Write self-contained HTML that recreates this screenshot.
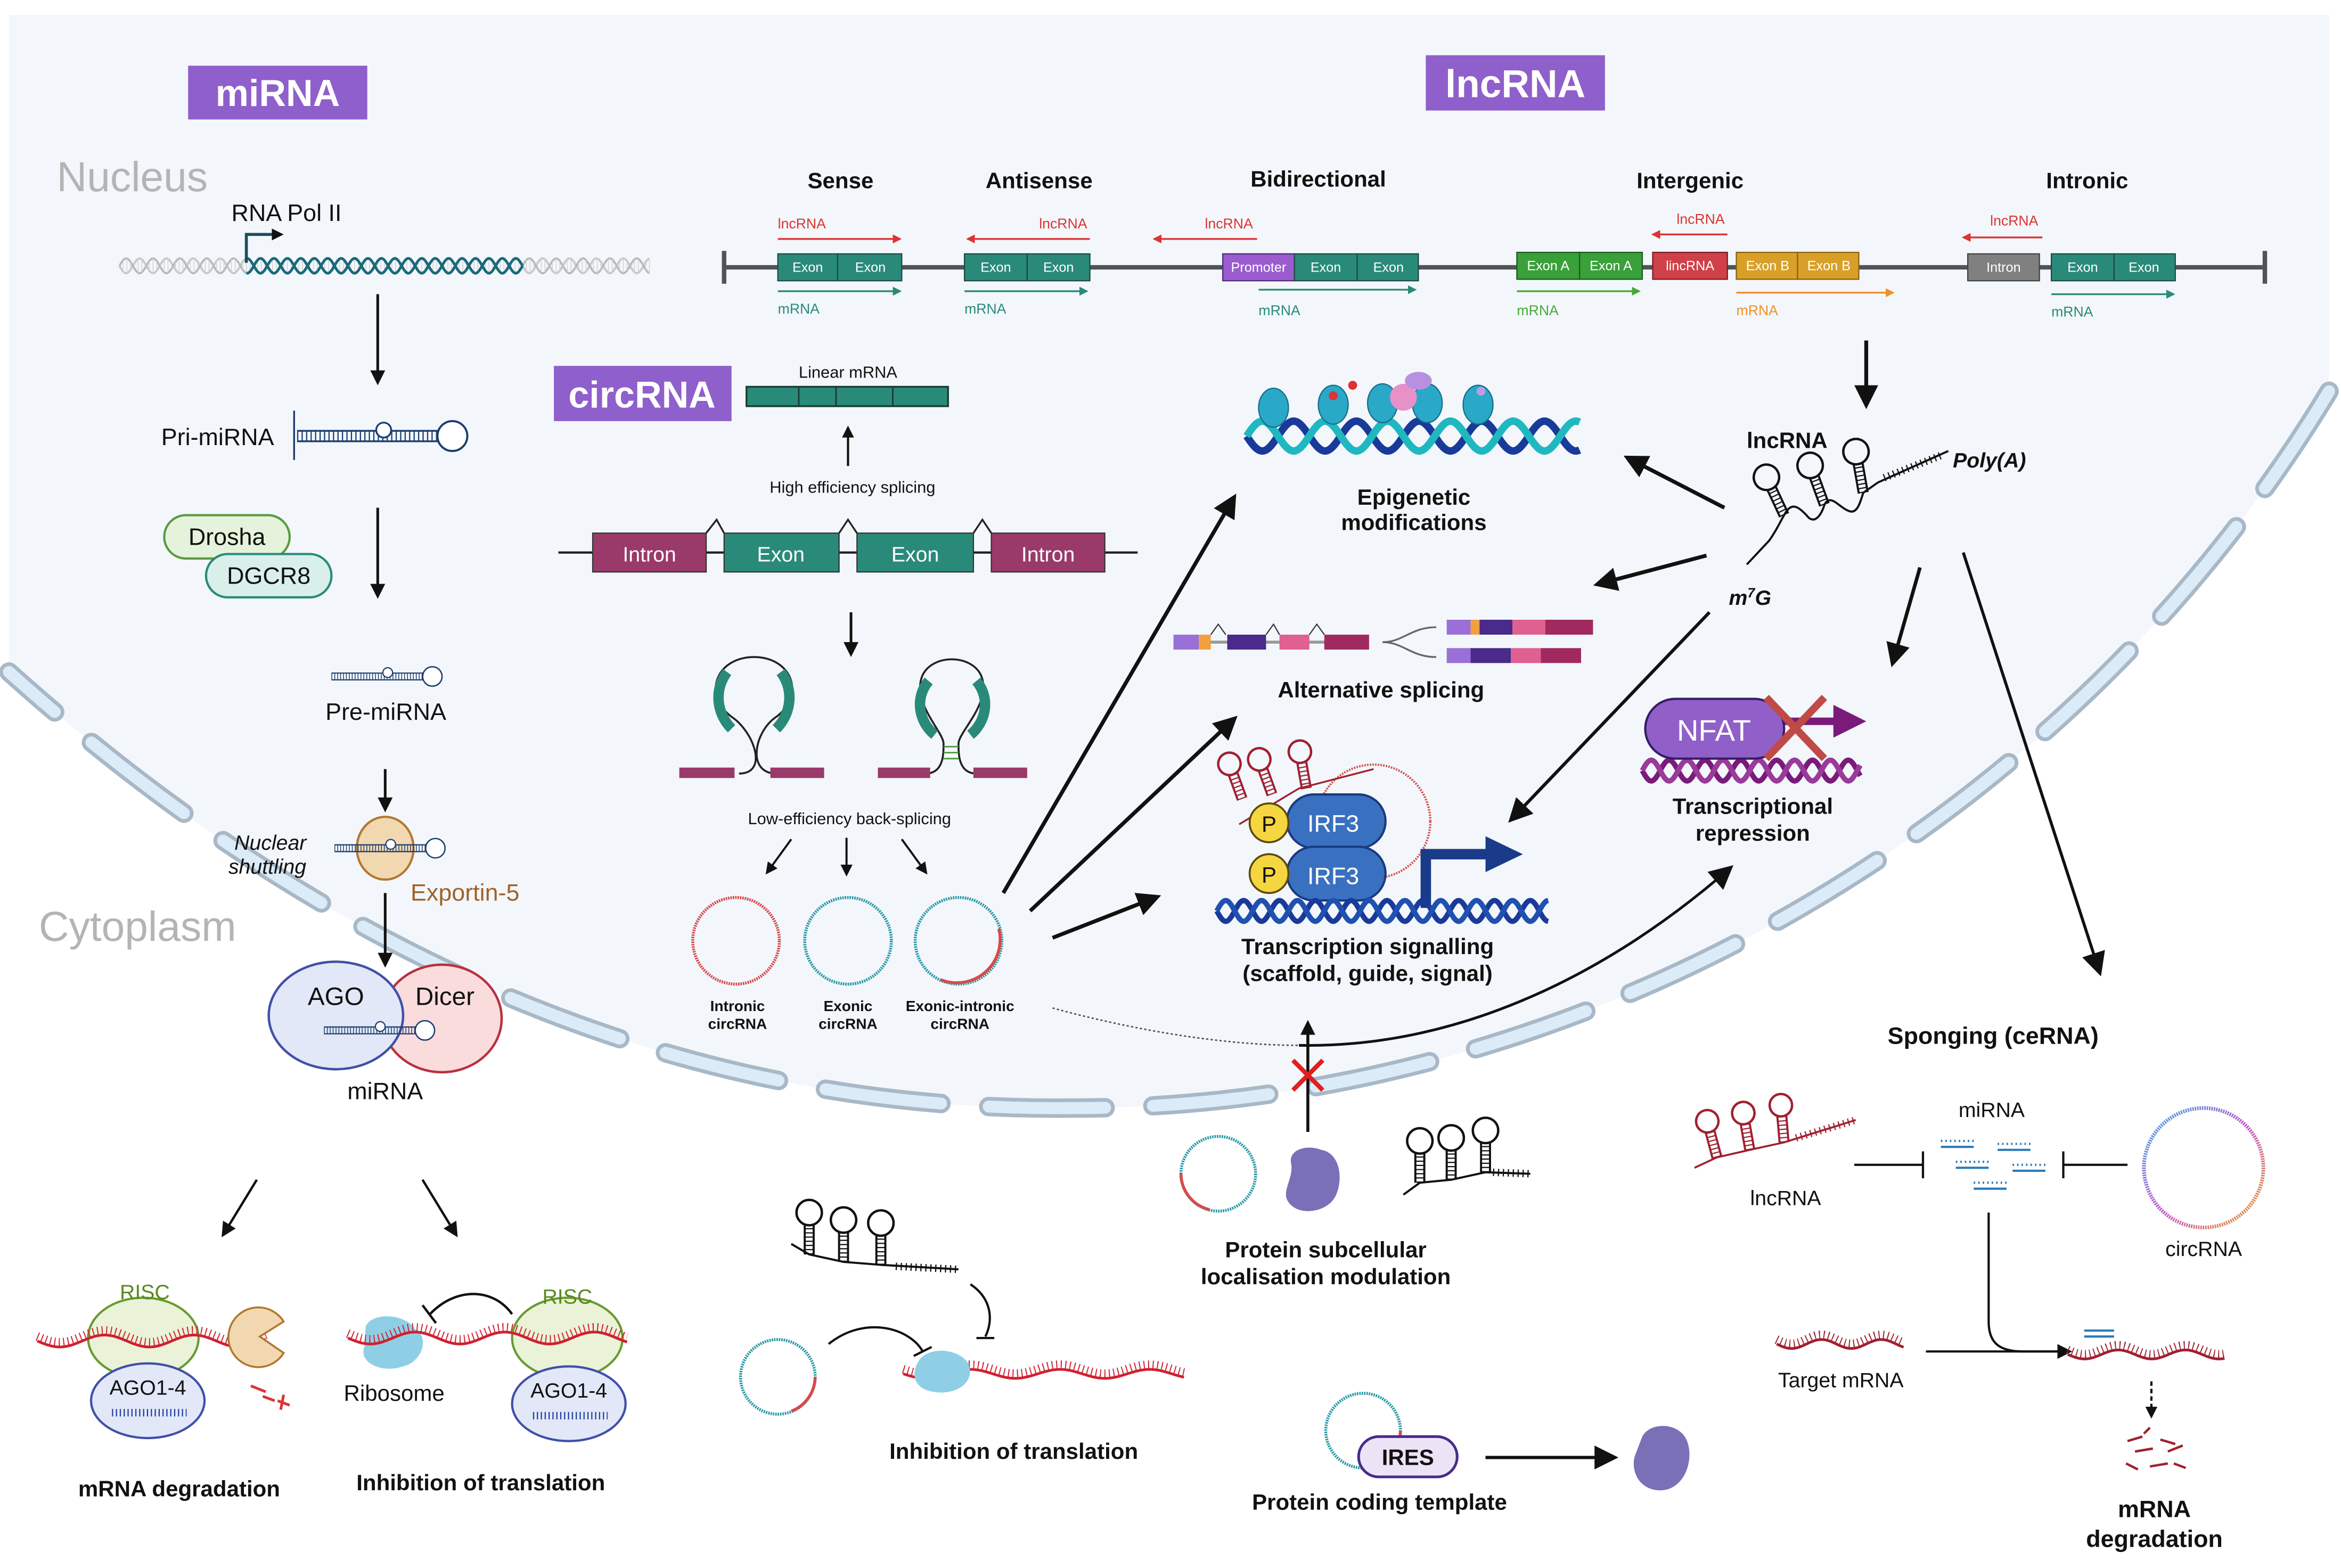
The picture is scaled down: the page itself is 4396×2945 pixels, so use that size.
<!DOCTYPE html>
<html><head><meta charset="utf-8">
<style>
html,body{margin:0;padding:0;background:#fff;}
svg{display:block;}
text{font-family:"Liberation Sans",sans-serif;}
.b{font-weight:bold;}
</style></head>
<body>
<svg id="s" width="4396" height="2945" viewBox="0 0 1568 1050" preserveAspectRatio="none" xmlns="http://www.w3.org/2000/svg">
<defs>
<marker id="ah" markerWidth="10" markerHeight="10" refX="7" refY="5" orient="auto" markerUnits="userSpaceOnUse"><path d="M0,0 L10,5 L0,10 Z" fill="#111"/></marker>
<marker id="ahs" markerWidth="8" markerHeight="8" refX="6" refY="4" orient="auto" markerUnits="userSpaceOnUse"><path d="M0,0 L8,4 L0,8 Z" fill="#111"/></marker>
<marker id="ahb" markerWidth="16" markerHeight="16" refX="12" refY="8" orient="auto" markerUnits="userSpaceOnUse"><path d="M0,0 L16,8 L0,16 Z" fill="#111"/></marker>
<marker id="ahr" markerWidth="6" markerHeight="6" refX="5" refY="3" orient="auto" markerUnits="userSpaceOnUse"><path d="M0,0 L6,3 L0,6 Z" fill="#d33"/></marker>
<marker id="aht" markerWidth="6" markerHeight="6" refX="5" refY="3" orient="auto" markerUnits="userSpaceOnUse"><path d="M0,0 L6,3 L0,6 Z" fill="#2a8a7a"/></marker>
<marker id="ahg" markerWidth="6" markerHeight="6" refX="5" refY="3" orient="auto" markerUnits="userSpaceOnUse"><path d="M0,0 L6,3 L0,6 Z" fill="#4aa83a"/></marker>
<marker id="aho" markerWidth="6" markerHeight="6" refX="5" refY="3" orient="auto" markerUnits="userSpaceOnUse"><path d="M0,0 L6,3 L0,6 Z" fill="#f0902a"/></marker>
<linearGradient id="rb" x1="0" y1="0" x2="1" y2="1"><stop offset="0" stop-color="#3ab0e0"/><stop offset="0.5" stop-color="#c050d0"/><stop offset="1" stop-color="#f0a020"/></linearGradient>
<g id="hp">
<line x1="0" y1="-3.5" x2="95" y2="-3.5" stroke="#1d3d6e" stroke-width="1.2"/>
<line x1="0" y1="3.5" x2="95" y2="3.5" stroke="#1d3d6e" stroke-width="1.2"/>
<line x1="0" y1="0" x2="95" y2="0" stroke="#1d3d6e" stroke-width="7" stroke-dasharray="0.8 2.2"/>
<circle cx="58" cy="-4" r="5" fill="#fff" stroke="#1d3d6e" stroke-width="1.2"/>
<circle cx="104" cy="0" r="10" fill="#fff" stroke="#1d3d6e" stroke-width="1.4"/>
</g>
<g id="sl">
<line x1="-3" y1="0" x2="-3" y2="-20" stroke="#111" stroke-width="1.4"/>
<line x1="3" y1="0" x2="3" y2="-20" stroke="#111" stroke-width="1.4"/>
<line x1="0" y1="0" x2="0" y2="-20" stroke="#111" stroke-width="6" stroke-dasharray="0.8 2"/>
<circle cx="0" cy="-28" r="8.5" fill="none" stroke="#111" stroke-width="1.6"/>
</g>
<g id="slr">
<line x1="-3" y1="0" x2="-3" y2="-18" stroke="#a02030" stroke-width="1.4"/>
<line x1="3" y1="0" x2="3" y2="-18" stroke="#a02030" stroke-width="1.4"/>
<line x1="0" y1="0" x2="0" y2="-18" stroke="#a02030" stroke-width="6" stroke-dasharray="0.8 2"/>
<circle cx="0" cy="-25" r="7.5" fill="none" stroke="#a02030" stroke-width="1.6"/>
</g>
</defs>

<!-- background -->
<rect x="0" y="0" width="1568" height="1050" fill="#fff"/>
<path d="M6,10 L1560,10 L1560,262 C1380,560 1050,742 720,742 C480,745 240,660 6,450 Z" fill="#f3f7fb"/>
<path d="M1560,262 C1380,560 1050,742 720,742 C480,745 240,660 6,450" fill="none" stroke="#a8b8c6" stroke-width="13" stroke-linecap="round" stroke-dasharray="78 32"/>
<path d="M1560,262 C1380,560 1050,742 720,742 C480,745 240,660 6,450" fill="none" stroke="#dcebf8" stroke-width="8" stroke-linecap="round" stroke-dasharray="78 32"/>

<!-- headers -->
<rect x="126" y="44" width="120" height="36" fill="#8f5fcb"/>
<text x="186" y="71" font-size="25" fill="#fff" class="b" text-anchor="middle">miRNA</text>
<rect x="955" y="37" width="120" height="37" fill="#8f5fcb"/>
<text x="1015" y="65" font-size="26" fill="#fff" class="b" text-anchor="middle">lncRNA</text>
<rect x="371" y="245" width="119" height="37" fill="#8f5fcb"/>
<text x="430" y="273" font-size="25" fill="#fff" class="b" text-anchor="middle">circRNA</text>
<text x="38" y="128" font-size="28" fill="#b4b4b4">Nucleus</text>
<text x="26" y="630" font-size="28" fill="#b4b4b4">Cytoplasm</text>

<!-- miRNA pathway -->
<text x="155" y="148" font-size="16" fill="#111">RNA Pol II</text>
<g id="dna1"></g>
<path d="M165,176 L165,157 L188,157" fill="none" stroke="#1d4d5e" stroke-width="2" marker-end="url(#ahs)"/>
<line x1="253" y1="197" x2="253" y2="255" stroke="#111" stroke-width="1.8" marker-end="url(#ah)"/>
<text x="108" y="298" font-size="16" fill="#111">Pri-miRNA</text>
<line x1="197" y1="275" x2="197" y2="308" stroke="#1d3d6e" stroke-width="1.2"/>
<use href="#hp" transform="translate(199,292)"/>
<rect x="110" y="345" width="84" height="29" rx="14.5" fill="#e6f3dc" stroke="#5a9a40" stroke-width="1.5"/>
<text x="152" y="365" font-size="16" fill="#111" text-anchor="middle">Drosha</text>
<rect x="138" y="371" width="84" height="29" rx="14.5" fill="#d8efea" stroke="#2a8a7a" stroke-width="1.5"/>
<text x="180" y="391" font-size="16" fill="#111" text-anchor="middle">DGCR8</text>
<line x1="253" y1="340" x2="253" y2="398" stroke="#111" stroke-width="1.8" marker-end="url(#ah)"/>
<use href="#hp" transform="translate(222,453) scale(0.65)"/>
<text x="218" y="482" font-size="16" fill="#111">Pre-miRNA</text>
<line x1="258" y1="515" x2="258" y2="541" stroke="#111" stroke-width="1.8" marker-end="url(#ah)"/>
<text x="157" y="569" font-size="14" font-style="italic" fill="#111">Nuclear</text>
<text x="153" y="585" font-size="14" font-style="italic" fill="#111">shuttling</text>
<ellipse cx="258" cy="568" rx="19" ry="21" fill="#f2d8b0" stroke="#b07830" stroke-width="1.5"/>
<use href="#hp" transform="translate(224,568) scale(0.65)"/>
<text x="275" y="603" font-size="16" fill="#a0622a">Exportin-5</text>
<line x1="258" y1="598" x2="258" y2="645" stroke="#111" stroke-width="1.8" marker-end="url(#ah)"/>
<ellipse cx="296" cy="682" rx="40" ry="36" fill="#fadcdc" stroke="#b83040" stroke-width="1.6"/>
<ellipse cx="225" cy="680" rx="45" ry="36" fill="#e2e8f8" stroke="#4050a8" stroke-width="1.6"/>
<text x="225" y="673" font-size="17" fill="#111" text-anchor="middle">AGO</text>
<text x="298" y="673" font-size="17" fill="#111" text-anchor="middle">Dicer</text>
<use href="#hp" transform="translate(217,690) scale(0.65)"/>
<text x="258" y="736" font-size="16" fill="#111" text-anchor="middle">miRNA</text>
<line x1="172" y1="790" x2="150" y2="826" stroke="#111" stroke-width="1.6" marker-end="url(#ah)"/>
<line x1="283" y1="790" x2="305" y2="826" stroke="#111" stroke-width="1.6" marker-end="url(#ah)"/>

<!-- mRNA degradation -->
<ellipse cx="96" cy="896" rx="37" ry="27" fill="#eaf3d8" stroke="#6a9a30" stroke-width="1.5"/>
<text x="97" y="870" font-size="14" fill="#5a8a20" text-anchor="middle">RISC</text>
<g id="w1"></g>
<ellipse cx="99" cy="938" rx="38" ry="25" fill="#e2e8f8" stroke="#4050a8" stroke-width="1.5"/>
<text x="99" y="934" font-size="14" fill="#111" text-anchor="middle">AGO1-4</text>
<line x1="75" y1="946" x2="125" y2="946" stroke="#2040a0" stroke-width="5" stroke-dasharray="0.8 1.8"/>
<path d="M174,895 L190,885 A20,20 0 1,0 190,906 Z" fill="#f2d8b0" stroke="#b07830" stroke-width="1.3"/>
<path d="M168,928 l10,4 M176,935 l8,3 M190,934 l-2,10 M186,938 l8,3" stroke="#d33" stroke-width="1.8"/>
<text x="120" y="1002" font-size="15" class="b" fill="#111" text-anchor="middle">mRNA degradation</text>

<!-- inhibition translation left -->
<path d="M245,888 C250,878 272,880 278,890 C288,895 283,912 270,915 C255,920 240,912 244,902 Z" fill="#8ecfe6"/>
<ellipse cx="380" cy="896" rx="37" ry="27" fill="#eaf3d8" stroke="#6a9a30" stroke-width="1.5"/>
<text x="380" y="873" font-size="14" fill="#5a8a20" text-anchor="middle">RISC</text>
<g id="w2"></g>
<ellipse cx="381" cy="940" rx="38" ry="25" fill="#e2e8f8" stroke="#4050a8" stroke-width="1.5"/>
<text x="381" y="936" font-size="14" fill="#111" text-anchor="middle">AGO1-4</text>
<line x1="357" y1="948" x2="407" y2="948" stroke="#2040a0" stroke-width="5" stroke-dasharray="0.8 1.8"/>
<path d="M343,880 C330,862 305,862 288,880" fill="none" stroke="#111" stroke-width="1.6"/>
<line x1="283" y1="874" x2="292" y2="886" stroke="#111" stroke-width="1.6"/>
<text x="264" y="938" font-size="15" fill="#111" text-anchor="middle">Ribosome</text>
<text x="322" y="998" font-size="15" class="b" fill="#111" text-anchor="middle">Inhibition of translation</text>

<!-- circRNA -->
<text x="568" y="253" font-size="11" fill="#111" text-anchor="middle">Linear mRNA</text>
<rect x="500" y="259" width="135" height="13" fill="#2a8a7a" stroke="#1a3a30" stroke-width="1.2"/>
<path d="M535,259 v13 M560,259 v13 M598,259 v13" stroke="#1a3a30" stroke-width="1"/>
<line x1="568" y1="312" x2="568" y2="287" stroke="#111" stroke-width="1.5" marker-end="url(#ahs)"/>
<text x="571" y="330" font-size="11" fill="#111" text-anchor="middle">High efficiency splicing</text>
<line x1="374" y1="370" x2="762" y2="370" stroke="#222" stroke-width="1.5"/>
<path d="M473,357 L480,348 L485,357 M562,357 L568,348 L574,357 M652,357 L658,348 L664,357" fill="none" stroke="#222" stroke-width="1.2"/>
<rect x="397" y="357" width="76" height="26" fill="#9a3a6a" stroke="#333" stroke-width="0.8"/>
<rect x="485" y="357" width="77" height="26" fill="#2a8a7a" stroke="#333" stroke-width="0.8"/>
<rect x="574" y="357" width="78" height="26" fill="#2a8a7a" stroke="#333" stroke-width="0.8"/>
<rect x="664" y="357" width="76" height="26" fill="#9a3a6a" stroke="#333" stroke-width="0.8"/>
<text x="435" y="376" font-size="14" fill="#fff" text-anchor="middle">Intron</text>
<text x="523" y="376" font-size="14" fill="#fff" text-anchor="middle">Exon</text>
<text x="613" y="376" font-size="14" fill="#fff" text-anchor="middle">Exon</text>
<text x="702" y="376" font-size="14" fill="#fff" text-anchor="middle">Intron</text>
<line x1="570" y1="410" x2="570" y2="437" stroke="#111" stroke-width="1.8" marker-end="url(#ah)"/>
<!-- lariats -->
<path d="M455,518 L490,518 M495,518 C515,518 505,490 490,480 C470,465 480,440 505,440 C530,440 540,465 520,480 C505,490 500,518 520,518 L552,518" fill="none" stroke="#222" stroke-width="1.3"/>
<rect x="455" y="514" width="37" height="7" fill="#9a3a6a"/><rect x="516" y="514" width="36" height="7" fill="#9a3a6a"/>
<path d="M487,450 C478,462 480,478 490,488" fill="none" stroke="#2a8a7a" stroke-width="7"/>
<path d="M523,450 C532,462 530,478 520,488" fill="none" stroke="#2a8a7a" stroke-width="7"/>
<path d="M588,518 L620,518 C632,518 632,505 632,498 C632,490 610,470 618,452 C625,438 650,438 657,452 C665,470 642,490 642,498 C642,505 642,518 654,518 L688,518" fill="none" stroke="#222" stroke-width="1.3"/>
<rect x="588" y="514" width="35" height="7" fill="#9a3a6a"/><rect x="652" y="514" width="36" height="7" fill="#9a3a6a"/>
<path d="M622,456 C612,468 616,484 626,492" fill="none" stroke="#2a8a7a" stroke-width="7"/>
<path d="M654,456 C664,468 660,484 650,492" fill="none" stroke="#2a8a7a" stroke-width="7"/>
<path d="M632,500 h10 M632,504 h10 M632,508 h10" stroke="#4a9a3a" stroke-width="1"/>
<text x="569" y="552" font-size="11" fill="#111" text-anchor="middle">Low-efficiency back-splicing</text>
<line x1="530" y1="562" x2="514" y2="584" stroke="#111" stroke-width="1.4" marker-end="url(#ahs)"/>
<line x1="567" y1="561" x2="567" y2="585" stroke="#111" stroke-width="1.4" marker-end="url(#ahs)"/>
<line x1="604" y1="562" x2="620" y2="584" stroke="#111" stroke-width="1.4" marker-end="url(#ahs)"/>
<circle cx="493" cy="630" r="29" fill="none" stroke="#d84a4a" stroke-width="2" stroke-dasharray="1 0.6"/>
<circle cx="568" cy="630" r="29" fill="none" stroke="#2a9aa6" stroke-width="2" stroke-dasharray="1 0.6"/>
<circle cx="642" cy="630" r="29" fill="none" stroke="#2a9aa6" stroke-width="2" stroke-dasharray="1 0.6"/>
<path d="M669,622 A29,29 0 0,1 630,656" fill="none" stroke="#d84a4a" stroke-width="2"/>
<g font-size="10" class="b" fill="#111" text-anchor="middle">
<text x="494" y="677">Intronic</text><text x="494" y="689">circRNA</text>
<text x="568" y="677">Exonic</text><text x="568" y="689">circRNA</text>
<text x="643" y="677">Exonic-intronic</text><text x="643" y="689">circRNA</text>
</g>
<line x1="672" y1="598" x2="826" y2="334" stroke="#111" stroke-width="2.6" marker-end="url(#ahb)"/>
<line x1="690" y1="610" x2="826" y2="482" stroke="#111" stroke-width="2.6" marker-end="url(#ahb)"/>
<line x1="705" y1="628" x2="774" y2="601" stroke="#111" stroke-width="2.6" marker-end="url(#ahb)"/>
<path d="M705,675 C760,690 820,700 870,700" fill="none" stroke="#555" stroke-width="1" stroke-dasharray="1.5 1.5"/>
<path d="M870,700 C980,702 1080,650 1158,582" fill="none" stroke="#111" stroke-width="1.8" marker-end="url(#ahb)"/>

<!-- middle inhibition -->
<use href="#sl" transform="translate(542,840)"/><use href="#sl" transform="translate(565,845)"/><use href="#sl" transform="translate(590,847)"/>
<path d="M530,833 L542,840 L565,845 L590,847 L642,850" fill="none" stroke="#111" stroke-width="1.4"/>
<line x1="600" y1="848" x2="642" y2="850" stroke="#111" stroke-width="5" stroke-dasharray="0.8 2.5"/>
<circle cx="521" cy="922" r="25" fill="none" stroke="#2a9aa6" stroke-width="2" stroke-dasharray="1 0.6"/>
<path d="M546,922 A25,25 0 0,1 530,945" fill="none" stroke="#d84a4a" stroke-width="2"/>
<path d="M555,900 C580,880 610,890 618,905" fill="none" stroke="#111" stroke-width="1.5"/>
<line x1="612" y1="908" x2="624" y2="902" stroke="#111" stroke-width="1.5"/>
<path d="M650,860 C665,870 665,885 660,895" fill="none" stroke="#111" stroke-width="1.5"/>
<line x1="654" y1="896" x2="666" y2="896" stroke="#111" stroke-width="1.5"/>
<g id="w3"></g>
<path d="M615,912 C620,902 640,902 648,912 C655,925 640,935 625,932 C612,930 610,920 615,912Z" fill="#8ecfe6"/>
<text x="679" y="977" font-size="15" class="b" fill="#111" text-anchor="middle">Inhibition of translation</text>

<!-- lncRNA genes -->
<g font-size="15" class="b" fill="#111" text-anchor="middle">
<text x="563" y="126">Sense</text><text x="696" y="126">Antisense</text><text x="883" y="125">Bidirectional</text><text x="1132" y="126">Intergenic</text><text x="1398" y="126">Intronic</text>
</g>
<line x1="485" y1="179" x2="1517" y2="179" stroke="#505458" stroke-width="3"/>
<line x1="485" y1="168" x2="485" y2="190" stroke="#505458" stroke-width="3"/>
<line x1="1517" y1="168" x2="1517" y2="190" stroke="#505458" stroke-width="3"/>
<g font-size="9" fill="#fff" text-anchor="middle" stroke-width="0.8">
<rect x="521" y="170" width="40" height="18" fill="#2a8a7a" stroke="#1a4a40"/><rect x="561" y="170" width="43" height="18" fill="#2a8a7a" stroke="#1a4a40"/>
<text x="541" y="182">Exon</text><text x="583" y="182">Exon</text>
<rect x="646" y="170" width="42" height="18" fill="#2a8a7a" stroke="#1a4a40"/><rect x="688" y="170" width="42" height="18" fill="#2a8a7a" stroke="#1a4a40"/>
<text x="667" y="182">Exon</text><text x="709" y="182">Exon</text>
<rect x="819" y="170" width="48" height="18" fill="#9a5ccf" stroke="#4a2a7a"/><rect x="867" y="170" width="42" height="18" fill="#2a8a7a" stroke="#1a4a40"/><rect x="909" y="170" width="41" height="18" fill="#2a8a7a" stroke="#1a4a40"/>
<text x="843" y="182">Promoter</text><text x="888" y="182">Exon</text><text x="930" y="182">Exon</text>
<rect x="1016" y="169" width="42" height="18" fill="#3aa03a" stroke="#1a5a1a"/><rect x="1058" y="169" width="42" height="18" fill="#3aa03a" stroke="#1a5a1a"/>
<text x="1037" y="181">Exon A</text><text x="1079" y="181">Exon A</text>
<rect x="1107" y="169" width="50" height="18" fill="#d04048" stroke="#7a1a20"/><text x="1132" y="181">lincRNA</text>
<rect x="1163" y="169" width="41" height="18" fill="#d8a028" stroke="#8a6010"/><rect x="1204" y="169" width="41" height="18" fill="#d8a028" stroke="#8a6010"/>
<text x="1184" y="181">Exon B</text><text x="1225" y="181">Exon B</text>
<rect x="1318" y="170" width="48" height="18" fill="#808080" stroke="#404040"/><text x="1342" y="182">Intron</text>
<rect x="1374" y="170" width="42" height="18" fill="#2a8a7a" stroke="#1a4a40"/><rect x="1416" y="170" width="41" height="18" fill="#2a8a7a" stroke="#1a4a40"/>
<text x="1395" y="182">Exon</text><text x="1436" y="182">Exon</text>
</g>
<g font-size="9.5" text-anchor="start">
<text x="521" y="153" fill="#d33">lncRNA</text><line x1="521" y1="160" x2="603" y2="160" stroke="#d33" stroke-width="1.2" marker-end="url(#ahr)"/>
<text x="521" y="210" fill="#2a8a7a">mRNA</text><line x1="521" y1="195" x2="603" y2="195" stroke="#2a8a7a" stroke-width="1.2" marker-end="url(#aht)"/>
<text x="696" y="153" fill="#d33">lncRNA</text><line x1="730" y1="160" x2="648" y2="160" stroke="#d33" stroke-width="1.2" marker-end="url(#ahr)"/>
<text x="646" y="210" fill="#2a8a7a">mRNA</text><line x1="646" y1="195" x2="728" y2="195" stroke="#2a8a7a" stroke-width="1.2" marker-end="url(#aht)"/>
<text x="807" y="153" fill="#d33">lncRNA</text><line x1="842" y1="160" x2="773" y2="160" stroke="#d33" stroke-width="1.2" marker-end="url(#ahr)"/>
<text x="843" y="211" fill="#2a8a7a">mRNA</text><line x1="843" y1="194" x2="948" y2="194" stroke="#2a8a7a" stroke-width="1.2" marker-end="url(#aht)"/>
<text x="1016" y="211" fill="#4aa83a">mRNA</text><line x1="1016" y1="195" x2="1098" y2="195" stroke="#4aa83a" stroke-width="1.2" marker-end="url(#ahg)"/>
<text x="1123" y="150" fill="#d33">lncRNA</text><line x1="1157" y1="157" x2="1107" y2="157" stroke="#d33" stroke-width="1.2" marker-end="url(#ahr)"/>
<text x="1163" y="211" fill="#f0902a">mRNA</text><line x1="1163" y1="196" x2="1268" y2="196" stroke="#f0902a" stroke-width="1.2" marker-end="url(#aho)"/>
<text x="1333" y="151" fill="#d33">lncRNA</text><line x1="1368" y1="159" x2="1315" y2="159" stroke="#d33" stroke-width="1.2" marker-end="url(#ahr)"/>
<text x="1374" y="212" fill="#2a8a7a">mRNA</text><line x1="1374" y1="197" x2="1456" y2="197" stroke="#2a8a7a" stroke-width="1.2" marker-end="url(#aht)"/>
</g>
<line x1="1250" y1="228" x2="1250" y2="270" stroke="#111" stroke-width="2.6" marker-end="url(#ahb)"/>

<!-- lncRNA structure -->
<text x="1197" y="300" font-size="15" class="b" fill="#111" text-anchor="middle">lncRNA</text>
<text x="1308" y="313" font-size="14" class="b" font-style="italic" fill="#111">Poly(A)</text>
<text x="1158" y="405" font-size="14" class="b" font-style="italic" fill="#111">m<tspan font-size="9" dy="-5">7</tspan><tspan dy="5">G</tspan></text>
<use href="#sl" transform="translate(1195,345) rotate(-25)"/>
<use href="#sl" transform="translate(1222,338) rotate(-20)"/>
<use href="#sl" transform="translate(1248,330) rotate(-10)"/>
<path d="M1170,378 L1185,362 C1190,355 1192,350 1195,345 C1200,335 1205,340 1210,345 C1215,352 1220,345 1222,338 C1226,330 1232,340 1238,342 C1244,345 1246,336 1248,330 L1258,323 L1305,302" fill="none" stroke="#111" stroke-width="1.4"/>
<line x1="1262" y1="320" x2="1300" y2="305" stroke="#111" stroke-width="5" stroke-dasharray="0.8 2.5"/>
<line x1="1155" y1="340" x2="1091" y2="307" stroke="#111" stroke-width="2.6" marker-end="url(#ahb)"/>
<line x1="1143" y1="372" x2="1071" y2="391" stroke="#111" stroke-width="2.6" marker-end="url(#ahb)"/>
<line x1="1145" y1="410" x2="1013" y2="548" stroke="#111" stroke-width="2.2" marker-end="url(#ahb)"/>
<line x1="1286" y1="380" x2="1268" y2="443" stroke="#111" stroke-width="2.4" marker-end="url(#ahb)"/>
<line x1="1315" y1="370" x2="1406" y2="650" stroke="#111" stroke-width="2" marker-end="url(#ahb)"/>

<!-- epigenetic -->
<g id="dna2"></g>
<g fill="#2aa8c8" stroke="#1a6a8a" stroke-width="0.8">
<ellipse cx="853" cy="273" rx="10" ry="13"/><ellipse cx="893" cy="271" rx="10" ry="13"/><ellipse cx="926" cy="270" rx="10" ry="13"/><ellipse cx="956" cy="270" rx="10" ry="13"/><ellipse cx="990" cy="271" rx="10" ry="13"/>
</g>
<circle cx="940" cy="266" r="9" fill="#e890c8"/><ellipse cx="950" cy="255" rx="9" ry="6" fill="#b890e0"/>
<circle cx="906" cy="258" r="3" fill="#d33"/><circle cx="893" cy="265" r="3" fill="#d33"/><circle cx="992" cy="262" r="3" fill="#b8a0e0"/>
<text x="947" y="338" font-size="15" class="b" fill="#111" text-anchor="middle">Epigenetic</text>
<text x="947" y="355" font-size="15" class="b" fill="#111" text-anchor="middle">modifications</text>

<!-- alt splicing -->
<line x1="786" y1="430" x2="917" y2="430" stroke="#999" stroke-width="2"/>
<rect x="786" y="425" width="17" height="10" fill="#9a70d8"/><rect x="803" y="425" width="8" height="10" fill="#f0a040"/>
<rect x="822" y="425" width="26" height="10" fill="#4a2a8a"/><rect x="857" y="425" width="20" height="10" fill="#e06090"/><rect x="887" y="425" width="30" height="10" fill="#a02a60"/>
<path d="M811,425 l5,-7 l5,7 M848,425 l5,-7 l4,7 M877,425 l5,-7 l5,7" fill="none" stroke="#333" stroke-width="0.8"/>
<path d="M926,430 C940,430 945,420 962,420 M926,430 C940,430 945,440 962,440" fill="none" stroke="#666" stroke-width="1.2"/>
<rect x="969" y="415" width="16" height="10" fill="#9a70d8"/><rect x="985" y="415" width="6" height="10" fill="#f0a040"/><rect x="991" y="415" width="22" height="10" fill="#4a2a8a"/><rect x="1013" y="415" width="22" height="10" fill="#e06090"/><rect x="1035" y="415" width="32" height="10" fill="#a02a60"/>
<rect x="969" y="434" width="16" height="10" fill="#9a70d8"/><rect x="985" y="434" width="27" height="10" fill="#4a2a8a"/><rect x="1012" y="434" width="20" height="10" fill="#e06090"/><rect x="1032" y="434" width="27" height="10" fill="#a02a60"/>
<text x="925" y="467" font-size="15" class="b" fill="#111" text-anchor="middle">Alternative splicing</text>

<!-- transcription signalling -->
<circle cx="920" cy="550" r="38" fill="none" stroke="#d84a4a" stroke-width="1.5" stroke-dasharray="1 0.8"/>
<use href="#slr" transform="translate(832,535) rotate(-20)"/><use href="#slr" transform="translate(852,532) rotate(-20)"/><use href="#slr" transform="translate(875,528) rotate(-10)"/>
<path d="M830,552 L870,528 L920,515" fill="none" stroke="#a02030" stroke-width="1.2"/>
<rect x="862" y="532" width="66" height="36" rx="18" fill="#3a70c0" stroke="#1a3a80" stroke-width="1.5"/>
<rect x="862" y="567" width="66" height="36" rx="18" fill="#3a70c0" stroke="#1a3a80" stroke-width="1.5"/>
<text x="893" y="557" font-size="16" fill="#fff" text-anchor="middle">IRF3</text>
<text x="893" y="592" font-size="16" fill="#fff" text-anchor="middle">IRF3</text>
<circle cx="850" cy="551" r="13" fill="#f5d640" stroke="#5a4a10" stroke-width="1.3"/>
<circle cx="850" cy="585" r="13" fill="#f5d640" stroke="#5a4a10" stroke-width="1.3"/>
<text x="850" y="557" font-size="15" fill="#111" text-anchor="middle">P</text>
<text x="850" y="591" font-size="15" fill="#111" text-anchor="middle">P</text>
<path d="M955,608 L955,572 L998,572" fill="none" stroke="#1a3a8a" stroke-width="7"/>
<path d="M995,560 L1020,572 L995,584 Z" fill="#1a3a8a"/>
<g id="dna3"></g>
<text x="916" y="639" font-size="15" class="b" fill="#111" text-anchor="middle">Transcription signalling</text>
<text x="916" y="657" font-size="15" class="b" fill="#111" text-anchor="middle">(scaffold, guide, signal)</text>

<!-- NFAT -->
<g id="dna4"></g>
<path d="M1185,506 L1185,483 L1230,483" fill="none" stroke="#7a1a7a" stroke-width="5"/>
<path d="M1228,472 L1250,483 L1228,494 Z" fill="#7a1a7a"/>
<rect x="1102" y="468" width="93" height="40" rx="20" fill="#9060c8" stroke="#3a1a6a" stroke-width="1.5"/>
<text x="1148" y="496" font-size="20" fill="#fff" text-anchor="middle">NFAT</text>
<path d="M1183,467 L1222,508 M1222,467 L1183,508" stroke="#c04a48" stroke-width="5"/>
<text x="1174" y="545" font-size="15" class="b" fill="#111" text-anchor="middle">Transcriptional</text>
<text x="1174" y="563" font-size="15" class="b" fill="#111" text-anchor="middle">repression</text>

<!-- subcellular -->
<line x1="876" y1="758" x2="876" y2="686" stroke="#111" stroke-width="2" marker-end="url(#ah)"/>
<path d="M866,710 L886,730 M886,710 L866,730" stroke="#e02020" stroke-width="3"/>
<circle cx="816" cy="786" r="25" fill="none" stroke="#2a9aa6" stroke-width="2" stroke-dasharray="1 0.6"/>
<path d="M791,786 A25,25 0 0,0 810,810" fill="none" stroke="#d84a4a" stroke-width="2"/>
<path d="M865,780 C862,770 875,766 885,770 C897,772 900,788 895,800 C890,812 870,815 863,805 C858,798 866,790 865,780Z" fill="#7a70b8"/>
<use href="#sl" transform="translate(951,792)"/><use href="#sl" transform="translate(972,790)"/><use href="#sl" transform="translate(995,785)"/>
<path d="M940,800 L951,792 L972,790 L995,785 L1025,786" fill="none" stroke="#111" stroke-width="1.4"/>
<line x1="1000" y1="785" x2="1025" y2="786" stroke="#111" stroke-width="5" stroke-dasharray="0.8 2.5"/>
<text x="888" y="842" font-size="15" class="b" fill="#111" text-anchor="middle">Protein subcellular</text>
<text x="888" y="860" font-size="15" class="b" fill="#111" text-anchor="middle">localisation modulation</text>

<!-- protein coding -->
<circle cx="913" cy="958" r="25" fill="none" stroke="#2a9aa6" stroke-width="2" stroke-dasharray="1 0.6"/>
<path d="M938,958 A25,25 0 0,1 925,980" fill="none" stroke="#d84a4a" stroke-width="2"/>
<rect x="910" y="962" width="66" height="27" rx="13.5" fill="#ece4f6" stroke="#4a2a8a" stroke-width="1.8"/>
<text x="943" y="981" font-size="15" class="b" fill="#111" text-anchor="middle">IRES</text>
<line x1="995" y1="976" x2="1080" y2="976" stroke="#111" stroke-width="2.2" marker-end="url(#ahb)"/>
<path d="M1100,962 C1105,952 1125,952 1130,965 C1135,978 1128,998 1112,998 C1098,998 1092,985 1095,975Z" fill="#7a70b8"/>
<text x="924" y="1011" font-size="15" class="b" fill="#111" text-anchor="middle">Protein coding template</text>

<!-- sponging -->
<text x="1335" y="699" font-size="16" class="b" fill="#111" text-anchor="middle">Sponging (ceRNA)</text>
<use href="#slr" transform="translate(1150,775) rotate(-15)"/><use href="#slr" transform="translate(1172,770) rotate(-10)"/><use href="#slr" transform="translate(1195,765) rotate(-5)"/>
<path d="M1135,782 L1150,775 L1172,770 L1195,765 L1243,750" fill="none" stroke="#a02030" stroke-width="1.3"/>
<line x1="1203" y1="762" x2="1243" y2="750" stroke="#a02030" stroke-width="5" stroke-dasharray="0.8 2.5"/>
<text x="1196" y="807" font-size="14" fill="#111" text-anchor="middle">lncRNA</text>
<text x="1334" y="748" font-size="14" fill="#111" text-anchor="middle">miRNA</text>
<g stroke="#2a7ab8" stroke-width="1.5" fill="none">
<path d="M1300,768 h22 M1310,782 h22 M1338,770 h22 M1348,784 h22 M1322,796 h22"/>
<path d="M1300,764 h22 M1310,778 h22 M1338,766 h22 M1348,780 h22 M1322,792 h22" stroke-dasharray="1 2"/>
</g>
<line x1="1242" y1="780" x2="1288" y2="780" stroke="#111" stroke-width="1.5"/><line x1="1288" y1="771" x2="1288" y2="789" stroke="#111" stroke-width="1.5"/>
<line x1="1425" y1="780" x2="1382" y2="780" stroke="#111" stroke-width="1.5"/><line x1="1382" y1="771" x2="1382" y2="789" stroke="#111" stroke-width="1.5"/>
<circle cx="1476" cy="782" r="40" fill="none" stroke="url(#rb)" stroke-width="2.5" stroke-dasharray="1 0.6"/>
<text x="1476" y="841" font-size="14" fill="#111" text-anchor="middle">circRNA</text>
<path d="M1332,812 L1332,885 C1332,900 1340,905 1355,905 L1385,905" fill="none" stroke="#111" stroke-width="1.5" marker-end="url(#ah)"/>
<line x1="1290" y1="905" x2="1385" y2="905" stroke="#111" stroke-width="1.5"/>
<g id="w4"></g>
<text x="1233" y="929" font-size="14" fill="#111" text-anchor="middle">Target mRNA</text>
<path d="M1396,895 h20 M1396,891 h20" stroke="#2a7ab8" stroke-width="1.5"/>
<line x1="1441" y1="925" x2="1441" y2="948" stroke="#111" stroke-width="1.5" stroke-dasharray="3 2" marker-end="url(#ahs)"/>
<g stroke="#a02030" stroke-width="1.6">
<path d="M1425,965 l10,-3 M1430,972 l12,-2 M1447,964 l10,3 M1452,972 l10,-4 M1424,980 l8,4 M1440,982 l12,-2 M1456,980 l8,3 M1436,960 l4,-4"/>
</g>
<text x="1443" y="1016" font-size="16" class="b" fill="#111" text-anchor="middle">mRNA</text>
<text x="1443" y="1036" font-size="16" class="b" fill="#111" text-anchor="middle">degradation</text>
</svg>
<script>
var NS="http://www.w3.org/2000/svg";
function el(p,t,a){var e=document.createElementNS(NS,t);for(var k in a)e.setAttribute(k,a[k]);p.appendChild(e);return e;}
function helix(id,x1,x2,y,amp,per,c1,c2,w,rung){
 var g=document.getElementById(id);
 for(var s=0;s<2;s++){var d="";for(var x=x1;x<=x2;x+=1){var v=y+(s?-1:1)*amp*Math.sin((x-x1)/per*2*Math.PI);d+=(x==x1?"M":"L")+x+","+v.toFixed(2);}
 el(g,"path",{d:d,fill:"none",stroke:s?c2:c1,"stroke-width":w});}
 if(rung){for(var x=x1;x<=x2;x+=2.5){var v=amp*Math.sin((x-x1)/per*2*Math.PI);el(g,"line",{x1:x,y1:y-v,x2:x,y2:y+v,stroke:rung,"stroke-width":0.5});}}
}
function wavy(id,x1,x2,y,amp,per,c){
 var g=document.getElementById(id);var d="";
 for(var x=x1;x<=x2;x+=1){var v=y+amp*Math.sin((x-x1)/per*2*Math.PI);d+=(x==x1?"M":"L")+x+","+v.toFixed(2);}
 el(g,"path",{d:d,fill:"none",stroke:c,"stroke-width":1.8});
 el(g,"path",{d:d,fill:"none",stroke:c,"stroke-width":6,"stroke-dasharray":"0.7 2.3",transform:"translate(0,-3)"});
}
helix("dna1",80,435,178,5,18,"#c8c8c8","#b8b8b8",1.4,"#d0d0d0");
(function(){var g=document.getElementById("dna1");var x1=165,x2=350;for(var s=0;s<2;s++){var d="";for(var x=x1;x<=x2;x++){var v=178+(s?-1:1)*5*Math.sin((x-80)/18*2*Math.PI);d+=(x==x1?"M":"L")+x+","+v.toFixed(2);}el(g,"path",{d:d,fill:"none",stroke:"#1a6a7a","stroke-width":1.8});}})();
helix("dna2",835,1058,292,10,42,"#1a3a9a","#20b8c0",5,null);
helix("dna3",815,1037,610,7,24,"#1a3a9a","#2050b0",3.5,null);
helix("dna4",1100,1246,516,7,24,"#7a1a7a","#9a3a9a",3.5,null);
wavy("w1",25,178,898,4,60,"#d02030");
wavy("w2",233,420,896,4,60,"#d02030");
wavy("w3",605,793,920,3,60,"#d02030");
wavy("w4",1190,1275,900,3,40,"#a02030");
wavy("w4",1385,1490,907,3,45,"#a02030");
</script>
</body></html>
